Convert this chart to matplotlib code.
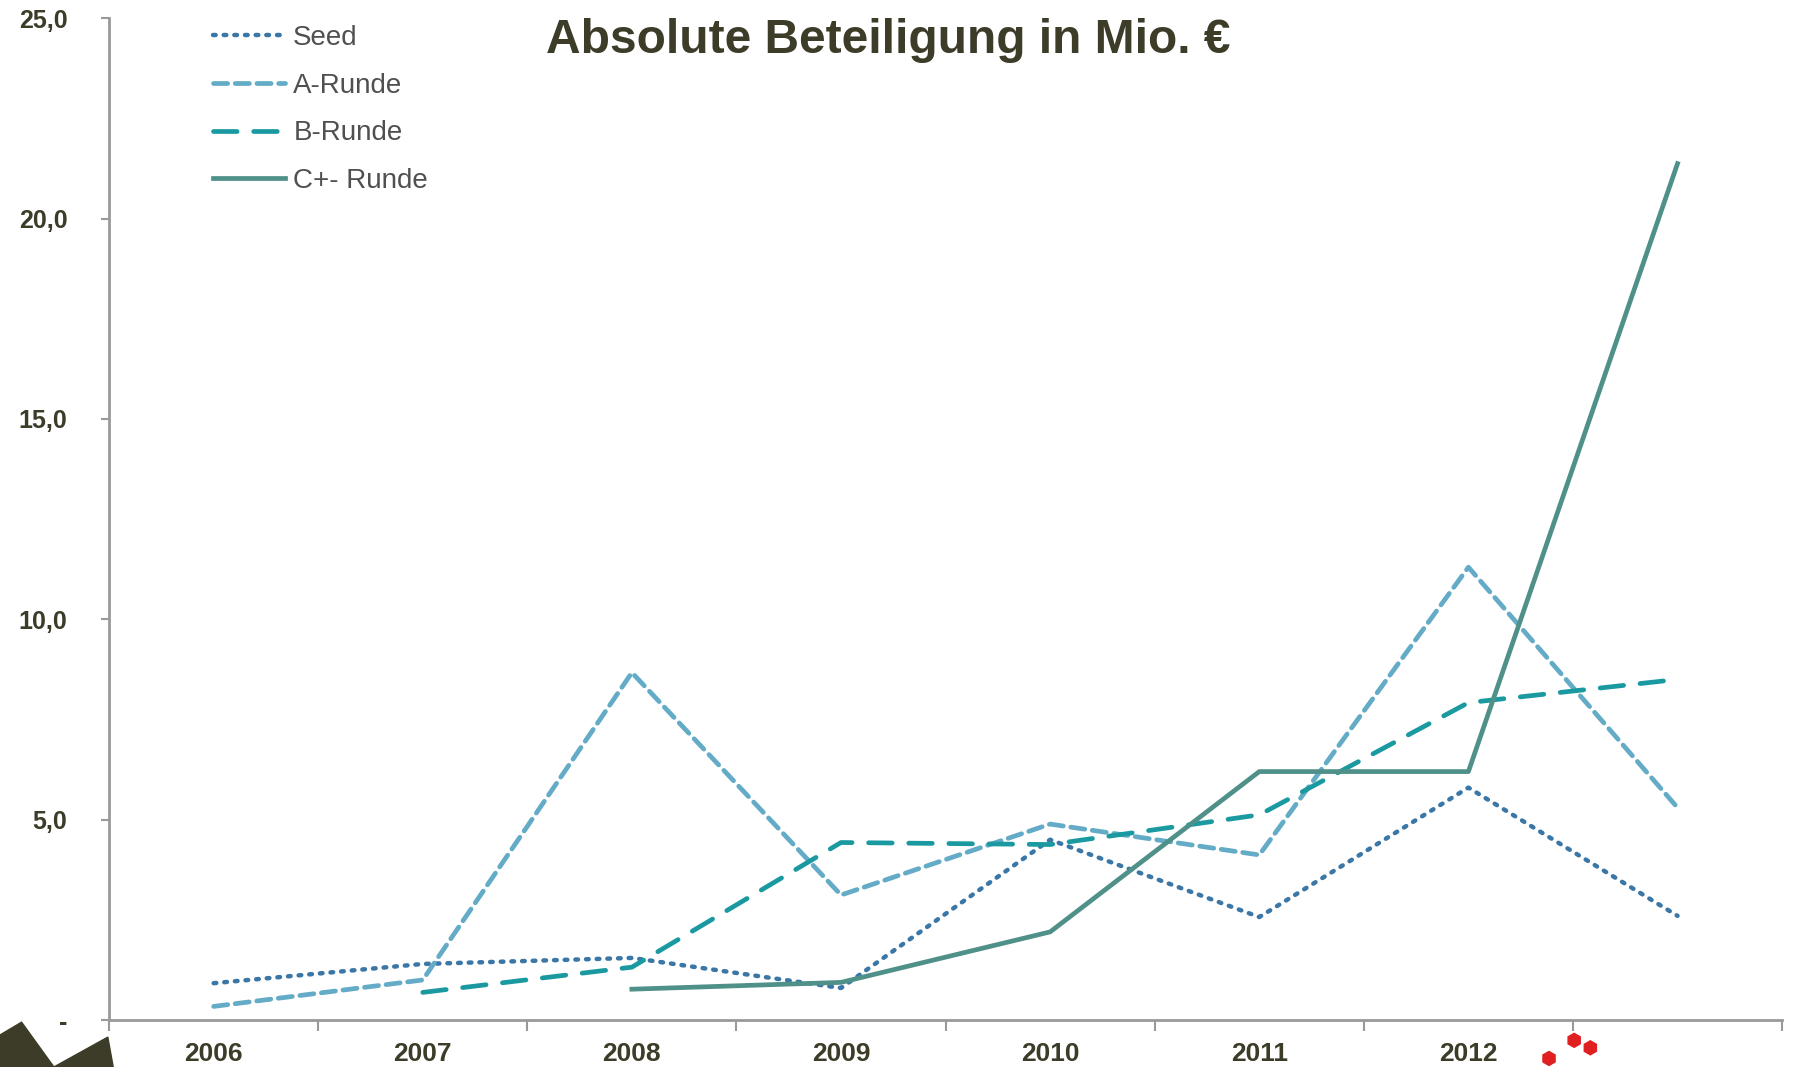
import numpy as np
import matplotlib.pyplot as plt
from matplotlib.patches import Polygon, RegularPolygon

# Daten (Mio. €) je Jahr
jahre = ['2006', '2007', '2008', '2009', '2010', '2011', '2012', '']
seed = [0.92, 1.40, 1.55, 0.80, 4.50, 2.57, 5.80, 2.60]
a_runde = [0.34, 1.00, 8.67, 3.12, 4.89, 4.12, 11.30, 5.30]
b_runde = [np.nan, 0.69, 1.32, 4.43, 4.38, 5.12, 7.92, 8.50]
c_runde = [np.nan, np.nan, 0.77, 0.94, 2.20, 6.20, 6.20, 21.37]
y_ticks = [0, 5, 10, 15, 20, 25]
y_labels = ['-', '5,0', '10,0', '15,0', '20,0', '25,0']

plt.rcParams['font.family'] = ['Liberation Sans', 'DejaVu Sans']
dunkel = '#3c3c28'
achse = '#999999'

fig = plt.figure(figsize=(17.97, 10.67), dpi=100)
ax = fig.add_axes([0.0607, 0.044, 0.931, 0.939])

x = np.arange(len(jahre))
ax.plot(x, seed, color='#3a76a6', lw=3.2, linestyle=(0, (0.6, 1.8)),
        dash_capstyle='round', label='Seed')
ax.plot(x, a_runde, color='#63abc6', lw=3.4, linestyle=(0, (3, 1.6)),
        dash_capstyle='round', label='A-Runde')
ax.plot(x, b_runde, color='#1a9aa0', lw=3.4, linestyle=(0, (5, 3.5)),
        dash_capstyle='round', label='B-Runde')
ax.plot(x, c_runde, color='#4f9189', lw=3.4, label='C+- Runde')

ax.set_xlim(-0.5, len(jahre) - 0.5)
ax.set_ylim(0, 25)
ax.set_xticks(np.arange(-0.5, len(jahre)), labels=[])
ax.set_xticks(x, labels=jahre, minor=True)
ax.tick_params(axis='x', which='major', length=8, width=1.5, color=achse, direction='out')
ax.tick_params(axis='x', which='minor', length=0, pad=16, labelsize=19, labelcolor=dunkel)
for t in ax.get_xticklabels(minor=True):
    t.set_fontweight('bold')
ax.set_yticks(y_ticks, labels=y_labels)
ax.tick_params(axis='y', length=6, width=1.5, color=achse, pad=24, labelsize=18, labelcolor=dunkel)
for t in ax.get_yticklabels():
    t.set_fontweight('bold')

for s in ['top', 'right']:
    ax.spines[s].set_visible(False)
for s in ['left', 'bottom']:
    ax.spines[s].set_color(achse)
    ax.spines[s].set_linewidth(2)

leg = ax.legend(loc='upper left', bbox_to_anchor=(0.047, 1.018), frameon=False, fontsize=20,
                handlelength=2.6, handletextpad=0.3, labelspacing=0.78, labelcolor='#505050')

fig.text(0.494, 0.962, 'Absolute Beteiligung in Mio. €', ha='center', va='center',
         fontsize=34.5, fontweight='bold', color=dunkel)

# Dekoration unten links und rote Punkte
fig.patches.append(Polygon([[0, 0], [0, 0.03], [0.012, 0.042], [0.03, 0]], closed=True,
                           transform=fig.transFigure, color=dunkel))
fig.patches.append(Polygon([[0.03, 0], [0.06, 0.028], [0.063, 0]], closed=True,
                           transform=fig.transFigure, color=dunkel))
for px, py in [(0.876, 0.025), (0.885, 0.018), (0.862, 0.008)]:
    fig.patches.append(RegularPolygon((px * 1797, py * 1067), 6, radius=7, color='#e02020',
                                      transform=None))

fig.savefig('out.png', dpi=100)
